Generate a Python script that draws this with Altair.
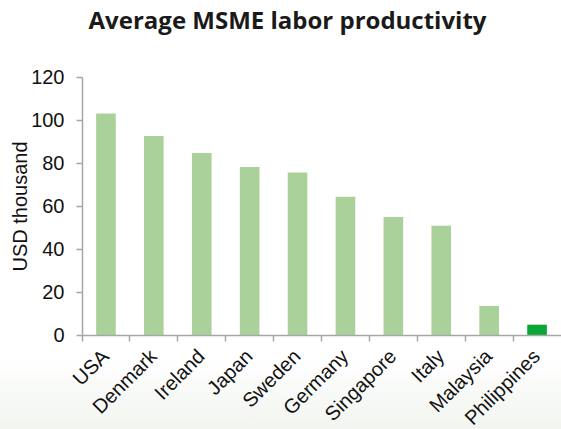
import altair as alt
import pandas as pd

# Average labour productivity of micro, small and medium enterprises (USD thousand)
countries = ["USA", "Denmark", "Ireland", "Japan", "Sweden", "Germany",
             "Singapore", "Italy", "Malaysia", "Philippines"]
productivity = [103.0, 92.6, 84.7, 78.1, 75.6, 64.3, 54.9, 50.8, 13.5, 4.8]
highlight = [c == "Philippines" for c in countries]

df = pd.DataFrame({"country": countries, "value": productivity, "focus": highlight})

W, H = 479, 258
LIGHT_GREEN = "#abd19b"
DARK_GREEN = "#0aa638"
AXIS_GREY = "#a6a6a6"
FONT = "Liberation Sans"

# soft tinted band behind the category labels
backdrop = alt.Chart(alt.Data(values=[{}])).mark_rect(
    color=alt.LinearGradient(
        gradient="linear",
        x1=0, x2=0, y1=0, y2=1,
        stops=[alt.GradientStop(offset=0, color="#ffffff"),
               alt.GradientStop(offset=1, color="#f0f4ee")],
    )
).encode(
    x=alt.value(-82), x2=alt.value(W + 5),
    y=alt.value(H + 22), y2=alt.value(H + 100),
)

bars = alt.Chart(df).mark_bar(width=alt.RelativeBandSize(0.41)).encode(
    x=alt.X(
        "country:N",
        sort=countries,
        scale=alt.Scale(paddingInner=0, paddingOuter=0),
        axis=alt.Axis(
            title=None,
            bandPosition=0,
            labelAngle=-45,
            labelAlign="right",
            labelBaseline="middle",
            labelPadding=12,
            labelFont=FONT,
            labelFontSize=20,
            labelColor="#111111",
            tickSize=6,
            tickColor=AXIS_GREY,
            tickWidth=1.5,
            domainColor=AXIS_GREY,
            domainWidth=1.5,
            grid=False,
            zindex=2,
        ),
    ),
    y=alt.Y(
        "value:Q",
        scale=alt.Scale(domain=[0, 120], nice=False),
        axis=alt.Axis(
            title="USD thousand",
            values=[0, 20, 40, 60, 80, 100, 120],
            labelFont=FONT,
            labelFontSize=20,
            labelColor="#111111",
            labelPadding=12,
            tickSize=6,
            tickColor=AXIS_GREY,
            tickWidth=1.5,
            domainColor=AXIS_GREY,
            domainWidth=1.5,
            grid=False,
            zindex=2,
            titleFont=FONT,
            titleFontSize=20,
            titleFontWeight="normal",
            titleColor="#111111",
            titleAngle=-90,
            titleAlign="center",
            titleBaseline="alphabetic",
            titleX=-56,
            titleY=H / 2,
        ),
    ),
    color=alt.Color(
        "focus:N",
        scale=alt.Scale(domain=[False, True], range=[LIGHT_GREEN, DARK_GREEN]),
        legend=None,
    ),
)

chart = alt.layer(backdrop, bars).properties(
    width=W,
    height=H,
    autosize=alt.AutoSizeParams(type="none"),
    padding={"left": 82, "top": 77, "right": 0, "bottom": 94},
    title=alt.TitleParams(
        "Average MSME labor productivity",
        font="Open Sans",
        fontSize=24,
        fontWeight="bold",
        color="#1a1a1a",
        anchor="middle",
        frame="group",
        baseline="alphabetic",
        offset=14,
        dx=-34,
    ),
).configure_view(stroke=None)

chart.save("out.html", embed_options={"renderer": "svg", "actions": False})
